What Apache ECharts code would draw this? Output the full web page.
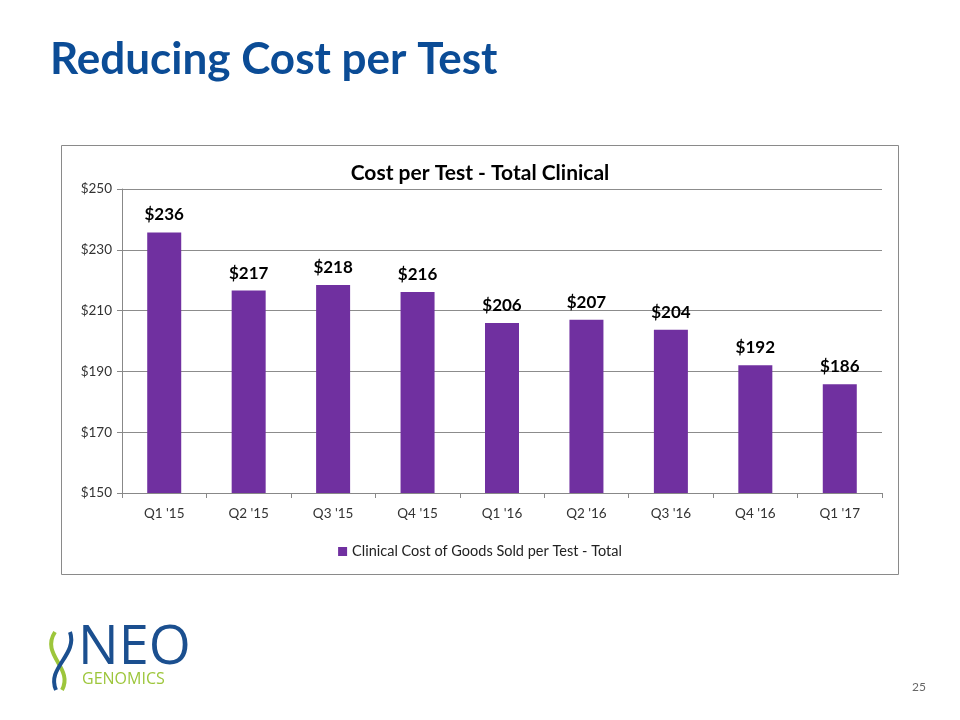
<!DOCTYPE html>
<html><head><meta charset="utf-8">
<script src="https://cdn.jsdelivr.net/npm/echarts@6/dist/echarts.min.js"></script>
<style>html,body{margin:0;padding:0;background:#fff}#c{width:960px;height:720px}</style>
</head><body><div id="c"></div>
<script>
const categories = ["Q1 '15","Q2 '15","Q3 '15","Q4 '15","Q1 '16","Q2 '16","Q3 '16","Q4 '16","Q1 '17"];
const costPerTest = [235.7, 216.6, 218.4, 216.1, 205.9, 207.0, 203.7, 192.0, 185.8];
const seriesName = "Clinical Cost of Goods Sold per Test - Total";
const yTicks = {min:150, max:250, interval:20};

const font = "Lato, 'Open Sans', sans-serif";
const chart = echarts.init(document.getElementById('c'), null, {renderer:'canvas'});
chart.setOption({
  animation:false,
  backgroundColor:'#fff',
  title:[
    {text:'Reducing Cost per Test', left:45, top:33,
     textStyle:{fontFamily:font, fontWeight:'bold', fontSize:44, color:'#0B4C96'}},
    {text:'Cost per Test - Total Clinical', left:'center', top:158,
     textStyle:{fontFamily:font, fontWeight:'bold', fontSize:21, color:'#000'}}
  ],
  legend:{bottom:156, left:'center', itemWidth:9, itemHeight:9, icon:'rect',
    textStyle:{fontFamily:font, fontSize:14.5, color:'#222'}, data:[seriesName]},
  grid:{left:122, right:78, top:189, bottom:227},
  xAxis:{type:'category', data:categories,
    axisLine:{lineStyle:{color:'#888'}},
    axisTick:{show:true, length:5, lineStyle:{color:'#888'}},
    axisLabel:{fontFamily:font, fontSize:13.5, color:'#333', margin:14}},
  yAxis:{type:'value', min:yTicks.min, max:yTicks.max, interval:yTicks.interval,
    axisLine:{show:true, lineStyle:{color:'#888'}},
    axisTick:{show:true, length:5, inside:false, lineStyle:{color:'#888'}},
    splitLine:{lineStyle:{color:'#8c8c8c', width:1}},
    axisLabel:{fontFamily:font, fontSize:13.5, color:'#333', margin:10, formatter:v=>'$'+v}},
  series:[{name:seriesName, type:'bar', data:costPerTest, barWidth:34,
    itemStyle:{color:'#7030A0'},
    label:{show:true, position:'top', distance:9, fontFamily:font, fontWeight:'bold', fontSize:17, color:'#000',
      formatter:p=>'$'+Math.round(p.value)}}],
  graphic:[
    {type:'rect', shape:{x:61.5, y:145.5, width:837, height:429}, style:{fill:'none', stroke:'#8a8a8a', lineWidth:1}, z:-1},
    {type:'text', left:912, top:681, style:{text:'25', fontFamily:font, fontSize:12, fill:'#666'}},
    // logo
    {type:'bezierCurve', shape:{x1:55,y1:632,x2:62,y2:690,cpx1:40,cpy1:655,cpx2:74,cpy2:668}, style:{stroke:'#9DC63B', lineWidth:4, fill:'none'}},
    {type:'bezierCurve', shape:{x1:70,y1:632,x2:56,y2:690,cpx1:78,cpy1:655,cpx2:46,cpy2:668}, style:{stroke:'#1B4F8F', lineWidth:4, fill:'none'}},
    {type:'text', left:78, top:622, style:{text:'NEO', fontFamily:"'Open Sans', sans-serif", fontSize:54, fontWeight:500, fill:'#1B4F8F'}},
    {type:'text', left:82, top:671, style:{text:'GENOMICS', fontFamily:"'Open Sans', sans-serif", fontSize:16, fill:'#9DC63B'}}
  ]
});
</script></body></html>
